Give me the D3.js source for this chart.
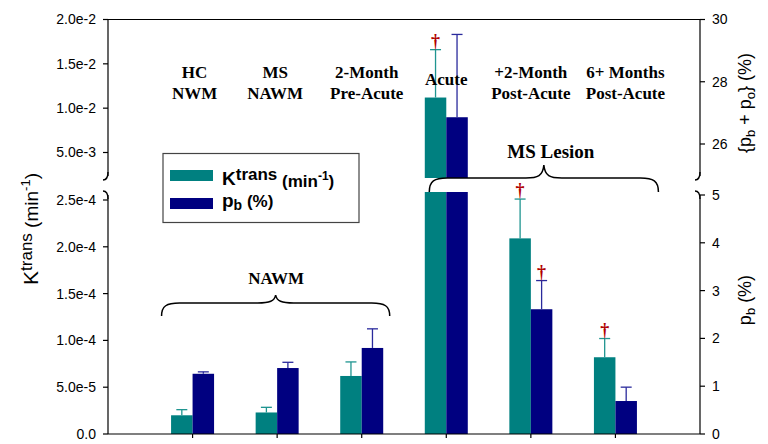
<!DOCTYPE html>
<html><head><meta charset="utf-8">
<script src="https://cdn.jsdelivr.net/npm/d3@7/dist/d3.min.js"></script>
<style>body{margin:0;background:#fff}svg{display:block}</style>
</head><body>
<svg id="c" width="768" height="444"></svg>
<script>
// ---- data ----
const categories = [["HC","NWM"],["MS","NAWM"],["2-Month","Pre-Acute"],["Acute"],["+2-Month","Post-Acute"],["6+ Months","Post-Acute"]];
const ktrans    = [2.0e-5, 2.3e-5, 6.2e-5, 1.12e-2, 2.09e-4, 8.2e-5];
const ktransErr = [0.6e-5, 0.55e-5, 1.5e-5, 0.54e-2, 0.42e-4, 2.0e-5];
const pb        = [1.26, 1.38, 1.80, 26.86, 2.61, 0.69];
const pbErr     = [0.04, 0.12, 0.40, 2.66, 0.60, 0.29];
const ktransSig = [false,false,false,true,true,true];
const pbSig     = [false,false,false,false,true,false];
const leftTicksLow  = [0, 5e-5, 1e-4, 1.5e-4, 2e-4, 2.5e-4];
const leftTickLabelsLow = ["0.0","5.0e-5","1.0e-4","1.5e-4","2.0e-4","2.5e-4"];
const leftTicksHigh = [5e-3, 1e-2, 1.5e-2, 2e-2];
const leftTickLabelsHigh = ["5.0e-3","1.0e-2","1.5e-2","2.0e-2"];
const rightTicksLow = [0,1,2,3,4,5];
const rightTicksHigh = [26,28,30];

// ---- layout ----
const svg = d3.select("#c");
const X0 = 108, X1 = 700, BASE = 434, LOW_TOP = 192, UP_BOT = 178, TOP = 19.5;
const x = d3.scaleLinear().domain([0, 7]).range([X0, X1]);
const yL = d3.scaleLinear().domain([0, 2.5e-4]).range([BASE, 200]);
const yLU = d3.scaleLinear().domain([5e-3, 2e-2]).range([152.5, TOP]);
const yR = d3.scaleLinear().domain([0, 5]).range([BASE, 195]);
const yRU = d3.scaleLinear().domain([26, 30]).range([144, TOP]);
const TEAL = "#008080", NAVY = "#000080";
const BW = 21.5;
const labelDx = [2, -2, 5, 0, 0, 10];

function yOf(v, lo, hi, loMax) { return v <= loMax ? lo(v) : hi(v); }

function drawBar(xl, v, lo, hi, loMax, color) {
  if (v <= loMax) {
    svg.append("rect").attr("x", xl).attr("y", lo(v)).attr("width", BW).attr("height", BASE - lo(v)).attr("fill", color);
  } else {
    svg.append("rect").attr("x", xl).attr("y", LOW_TOP).attr("width", BW).attr("height", BASE - LOW_TOP).attr("fill", color);
    svg.append("rect").attr("x", xl).attr("y", hi(v)).attr("width", BW).attr("height", UP_BOT - hi(v)).attr("fill", color);
  }
}
function drawErr(cx, v, e, lo, hi, loMax, color) {
  const y0 = yOf(v, lo, hi, loMax), y1 = yOf(v + e, lo, hi, loMax);
  const g = svg.append("g").attr("stroke", color).attr("stroke-width", 1.3);
  g.append("line").attr("x1", cx).attr("x2", cx).attr("y1", y0).attr("y2", y1);
  g.append("line").attr("x1", cx - 5.5).attr("x2", cx + 5.5).attr("y1", y1).attr("y2", y1);
  return y1;
}
function dagger(cx, yTop) {
  svg.append("text").attr("x", cx).attr("y", yTop - 3).attr("text-anchor", "middle")
    .attr("font-family", "Liberation Serif, Times New Roman, serif").attr("font-weight", "bold")
    .attr("font-size", 18).attr("fill", "#b00000").text("\u2020");
}

categories.forEach((c, i) => {
  const cx = x(i + 1);
  drawBar(cx - BW, ktrans[i], yL, yLU, 2.6e-4, TEAL);
  drawBar(cx, pb[i], yR, yRU, 5.05, NAVY);
  const t1 = drawErr(cx - BW / 2, ktrans[i], ktransErr[i], yL, yLU, 2.6e-4, "#1f9590");
  const t2 = drawErr(cx + BW / 2, pb[i], pbErr[i], yR, yRU, 5.05, "#2a2a9c");
  if (ktransSig[i]) dagger(cx - BW / 2, t1);
  if (pbSig[i]) dagger(cx + BW / 2, t2);
  const t = svg.append("text").attr("text-anchor", "middle")
    .attr("font-family", "Liberation Serif, Times New Roman, serif").attr("font-weight", "bold")
    .attr("font-size", 17).attr("fill", "#000");
  if (c.length === 1) {
    t.append("tspan").attr("x", cx + labelDx[i]).attr("y", 85).text(c[0]);
  } else {
    t.append("tspan").attr("x", cx + labelDx[i]).attr("y", 78).text(c[0]);
    t.append("tspan").attr("x", cx + labelDx[i]).attr("y", 99).text(c[1]);
  }
});

// ---- axes ----
const ax = svg.append("g").attr("stroke", "#000").attr("stroke-width", 1.2).attr("fill", "none");
ax.append("line").attr("x1", X0).attr("x2", X0).attr("y1", TOP).attr("y2", 176);
ax.append("line").attr("x1", X0).attr("x2", X0).attr("y1", 195).attr("y2", BASE);
ax.append("line").attr("x1", X1).attr("x2", X1).attr("y1", TOP).attr("y2", 176);
ax.append("line").attr("x1", X1).attr("x2", X1).attr("y1", 195).attr("y2", BASE);
ax.append("line").attr("x1", X0).attr("x2", X1).attr("y1", TOP).attr("y2", TOP);
ax.append("line").attr("x1", X0).attr("x2", X1).attr("y1", BASE).attr("y2", BASE);
[X0, X1].forEach(ux => {
  ax.append("path").attr("d", `M${ux},172 C${ux},178 ${ux-2},180 ${ux-5},180`).attr("stroke-width", 1.4);
  ax.append("path").attr("d", `M${ux},199 C${ux},193 ${ux-2},191 ${ux-5},191`).attr("stroke-width", 1.4);
});
categories.forEach((c, i) => ax.append("line").attr("x1", x(i + 1)).attr("x2", x(i + 1)).attr("y1", BASE).attr("y2", BASE + 4));

const tickFont = { "font-family": "Liberation Sans, Arial, sans-serif", "font-size": 14 };
function tickLabel(xp, yp, txt, anchor) {
  const t = svg.append("text").attr("x", xp).attr("y", yp).attr("dy", "0.35em").attr("text-anchor", anchor).attr("fill", "#000").text(txt);
  Object.entries(tickFont).forEach(([k, v]) => t.attr(k, v));
}
leftTicksLow.forEach((v, i) => { ax.append("line").attr("x1", X0 - 5).attr("x2", X0).attr("y1", yL(v)).attr("y2", yL(v)); tickLabel(X0 - 12, yL(v), leftTickLabelsLow[i], "end"); });
leftTicksHigh.forEach((v, i) => { ax.append("line").attr("x1", X0 - 5).attr("x2", X0).attr("y1", yLU(v)).attr("y2", yLU(v)); tickLabel(X0 - 12, yLU(v), leftTickLabelsHigh[i], "end"); });
rightTicksLow.forEach(v => { ax.append("line").attr("x1", X1).attr("x2", X1 + 5).attr("y1", yR(v)).attr("y2", yR(v)); tickLabel(X1 + 12, yR(v), String(v), "start"); });
rightTicksHigh.forEach(v => { ax.append("line").attr("x1", X1).attr("x2", X1 + 5).attr("y1", yRU(v)).attr("y2", yRU(v)); tickLabel(X1 + 12, yRU(v), String(v), "start"); });

// ---- axis titles ----
const sans = "Liberation Sans, Arial, sans-serif";
const lt = svg.append("text").attr("transform", "translate(38,229) rotate(-90)").attr("text-anchor", "middle")
  .attr("font-family", sans).attr("fill", "#000");
lt.append("tspan").attr("font-size", 21).text("K");
lt.append("tspan").attr("font-size", 17).attr("dy", -6).text("trans");
lt.append("tspan").attr("font-size", 19).attr("dy", 6).text(" (min");
lt.append("tspan").attr("font-size", 13).attr("dy", -8).text("-1");
lt.append("tspan").attr("font-size", 19).attr("dy", 8).text(")");

const r1 = svg.append("text").attr("transform", "translate(751,103) rotate(-90)").attr("text-anchor", "middle")
  .attr("font-family", sans).attr("font-size", 18).attr("fill", "#000");
r1.append("tspan").text("{p");
r1.append("tspan").attr("font-size", 13).attr("dy", 4).text("b");
r1.append("tspan").attr("dy", -4).text(" + p");
r1.append("tspan").attr("font-size", 13).attr("dy", 4).text("o");
r1.append("tspan").attr("dy", -4).text("} (%)");

const r2 = svg.append("text").attr("transform", "translate(751,300) rotate(-90)").attr("text-anchor", "middle")
  .attr("font-family", sans).attr("font-size", 18).attr("fill", "#000");
r2.append("tspan").text("p");
r2.append("tspan").attr("font-size", 13).attr("dy", 4).text("b");
r2.append("tspan").attr("dy", -4).text(" (%)");

// ---- braces ----
function brace(xa, xb, yEnd, yMid, yTip) {
  const xm = (xa + xb) / 2;
  const d = `M${xa},${yEnd} C${xa},${yMid + 3} ${xa + 5},${yMid} ${xa + 18},${yMid} L${xm - 18},${yMid} C${xm - 6},${yMid} ${xm - 1},${yMid - 2} ${xm},${yTip}` +
    ` C${xm + 1},${yMid - 2} ${xm + 6},${yMid} ${xm + 18},${yMid} L${xb - 18},${yMid} C${xb - 5},${yMid} ${xb},${yMid + 3} ${xb},${yEnd}`;
  svg.append("path").attr("d", d).attr("fill", "none").attr("stroke", "#000").attr("stroke-width", 1.5);
}
brace(x(1) - 31, x(3) + 28, 316, 303, 295);
brace(x(4) - 17, x(6) + 43, 192, 178, 165);
const serif = "Liberation Serif, Times New Roman, serif";
svg.append("text").attr("x", x(2) - 1).attr("y", 284).attr("text-anchor", "middle").attr("font-family", serif)
  .attr("font-weight", "bold").attr("font-size", 17).text("NAWM");
svg.append("text").attr("x", x(5) + 20).attr("y", 158).attr("text-anchor", "middle").attr("font-family", serif)
  .attr("font-weight", "bold").attr("font-size", 19).text("MS Lesion");

// ---- legend ----
svg.append("rect").attr("x", 163).attr("y", 153.5).attr("width", 196).attr("height", 69).attr("fill", "#fff").attr("stroke", "#444").attr("stroke-width", 1.2);
svg.append("rect").attr("x", 170).attr("y", 170).attr("width", 43).attr("height", 11).attr("fill", TEAL);
svg.append("rect").attr("x", 170).attr("y", 198).attr("width", 43).attr("height", 11).attr("fill", NAVY);
const l1 = svg.append("text").attr("x", 222).attr("y", 185).attr("font-family", sans).attr("font-weight", "bold").attr("fill", "#000");
l1.append("tspan").attr("font-size", 19).text("K");
l1.append("tspan").attr("font-size", 17).attr("dy", -5).text("trans");
l1.append("tspan").attr("font-size", 17).attr("dy", 7).text(" (min");
l1.append("tspan").attr("font-size", 12).attr("dy", -7).text("-1");
l1.append("tspan").attr("font-size", 17).attr("dy", 7).text(")");
const l2 = svg.append("text").attr("x", 222).attr("y", 207).attr("font-family", sans).attr("font-weight", "bold").attr("fill", "#000");
l2.append("tspan").attr("font-size", 19).text("p");
l2.append("tspan").attr("font-size", 14).attr("dy", 3).text("b");
l2.append("tspan").attr("font-size", 17).attr("dy", -3).text(" (%)");
</script>
</body></html>
